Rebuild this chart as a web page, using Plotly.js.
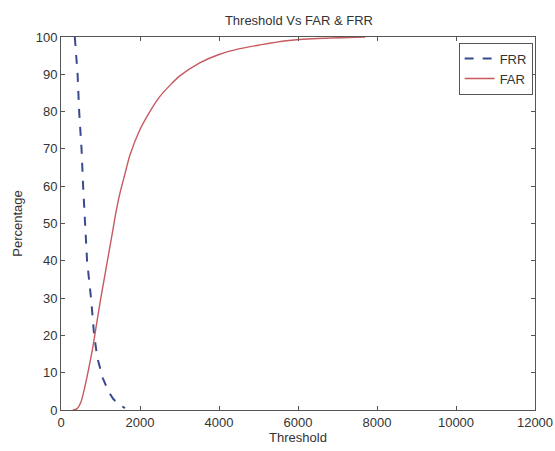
<!DOCTYPE html>
<html>
<head>
<meta charset="utf-8">
<script src="https://cdn.plot.ly/plotly-3.0.1.min.js"></script>
<style>html,body{margin:0;padding:0;background:#fff;}#chart{width:555px;height:451px;}</style>
</head>
<body>
<div id="chart"></div>
<script>
var frrThreshold = [350, 420, 460, 520, 560, 605, 660, 760, 840, 920, 1060, 1200, 1320, 1470, 1620];
var frrValues    = [100, 90, 80, 70, 60, 50, 40, 30, 20, 14, 8.5, 5, 3, 1.5, 0.5];

var farThreshold = [300, 400, 500, 600, 700, 800, 900, 1000, 1100, 1200, 1300, 1400, 1500, 1600, 1750, 2000, 2250, 2500, 2800, 3000, 3500, 4000, 4500, 5000, 5700, 6500, 7700];
var farValues    = [0, 0.3, 2, 6, 11, 16.5, 23, 29.5, 35.5, 41.5, 47.5, 53.5, 58.5, 62.5, 68.5, 75.2, 80, 84, 87.5, 89.5, 93, 95.3, 96.8, 97.8, 99, 99.6, 100];

var xTickVals = [0, 2000, 4000, 6000, 8000, 10000, 12000];
var yTickVals = [0, 10, 20, 30, 40, 50, 60, 70, 80, 90, 100];

var traces = [
  {x: frrThreshold, y: frrValues, name: 'FRR', mode: 'lines', type: 'scatter',
   line: {color: '#3a4a8c', width: 2, dash: 'dash'}},
  {x: farThreshold, y: farValues, name: 'FAR', mode: 'lines', type: 'scatter',
   line: {color: '#c65a5e', width: 1.4, shape: 'spline', smoothing: 0.8}}
];

var FONT = 'Liberation Sans, Arial, sans-serif';
var axisCommon = {
  showgrid: false, zeroline: false, showline: true, linecolor: '#555', linewidth: 1,
  mirror: 'ticks', ticks: 'inside', ticklen: 4, tickcolor: '#555', tickmode: 'array',
  tickfont: {family: FONT, size: 13, color: '#333'}
};

var layout = {
  width: 555, height: 451,
  margin: {l: 61, r: 20, t: 37, b: 41},
  paper_bgcolor: '#fff', plot_bgcolor: '#fff',
  showlegend: true,
  title: {text: 'Threshold Vs FAR &amp; FRR', xref: 'paper', x: 0.502, xanchor: 'center', yref: 'container', y: 0.955, yanchor: 'middle',
          font: {family: FONT, size: 13, color: '#333'}},
  xaxis: Object.assign({}, axisCommon, {range: [0, 12000], tickvals: xTickVals, ticktext: xTickVals.map(String),
    title: {text: 'Threshold', standoff: 3, font: {family: FONT, size: 13, color: '#333'}}}),
  yaxis: Object.assign({}, axisCommon, {range: [0, 100], tickvals: yTickVals, ticktext: yTickVals.map(String),
    title: {text: 'Percentage', standoff: 10, font: {family: FONT, size: 13, color: '#333'}}}),
  legend: {x: 0.995, y: 0.985, xanchor: 'right', yanchor: 'top', bgcolor: '#fff',
    bordercolor: '#555', borderwidth: 1, tracegroupgap: 0,
    font: {family: FONT, size: 13, color: '#333'}}
};

Plotly.newPlot('chart', traces, layout, {displayModeBar: false, staticPlot: true});
</script>
</body>
</html>
